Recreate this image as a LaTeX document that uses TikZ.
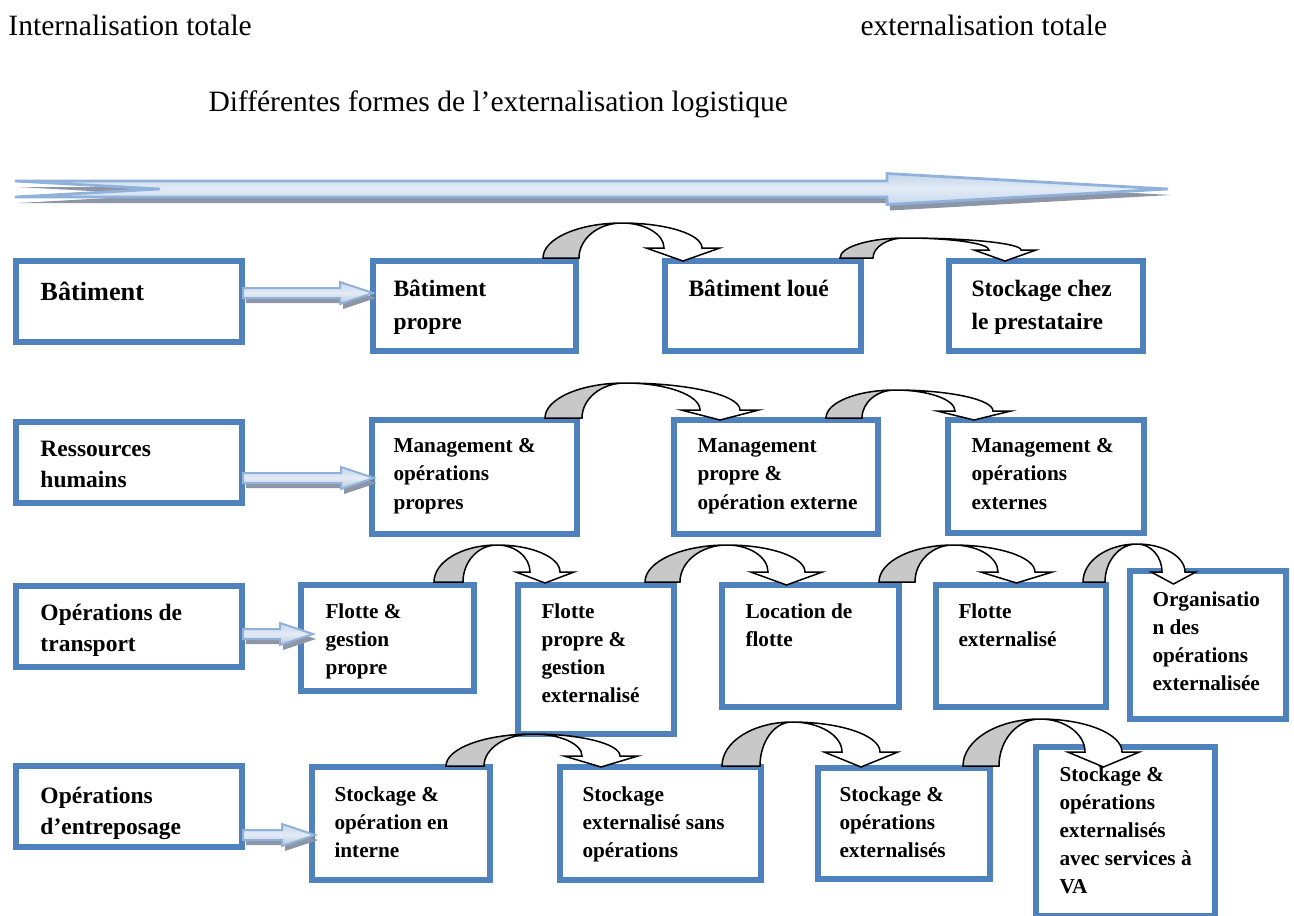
\documentclass[tikz,border=0pt]{standalone}
\usepackage{fontspec}
\setmainfont{Liberation Serif}
\definecolor{boxblue}{HTML}{4F81BD}
\definecolor{arrowedge}{HTML}{8FB1DA}
\definecolor{arrowlight}{HTML}{E3EBF5}
\definecolor{arrowmid}{HTML}{C5D6EC}
\definecolor{arrowshade}{HTML}{8C96A6}
\definecolor{backgray}{HTML}{C8C8C8}
\newcommand\boxtext[1]{\begin{tabular}[t]{@{}l@{}}#1\end{tabular}}
% rectangle given by its outer edges (x0,y0)-(x1,y1), in pixel units
\newcommand\bluerect[5]{%
  \node[bluebox, anchor=north west,
        minimum width={(#4-#2-6)*0.4pt}, minimum height={(#5-#3-6)*0.4pt}]
        (#1) at ({#2+3},{#3+3}) {};}
% straight block arrow: from x=#1 to tip x=#2 at height #3
\newcommand\flatarrowpath[3]{(#1,{#3-5}) -- ({#2-33},{#3-5}) -- ({#2-33},{#3-11}) -- (#2,#3)
  -- ({#2-33},{#3+11}) -- ({#2-33},{#3+5}) -- (#1,{#3+5}) -- cycle}
\newcommand\flatarrow[3]{%
  \fill[arrowshade, shift={(3,5)}] \flatarrowpath{#1}{#2}{#3};
  \path[flatarrowbody] \flatarrowpath{#1}{#2}{#3};}
% curved block arrow: outer/inner base x (#1,#2) at y #3, peak (#4,#5),
% shaft end inner/outer x (#6,#7) at y #8, tip at y #9
\newcommand\curvedarrow[9]{%
  \filldraw[curveback] (#1,#3) .. controls (#1,{#3-0.5523*(#3-#5)}) and ({#4-0.5523*(#4-#1)},#5) .. (#4,#5)
    .. controls ({#4-0.5523*(#4-#2)},#5) and (#2,{#3-0.5523*(#3-#5)}) .. (#2,#3) -- cycle;
  \filldraw[curvefront] (#4,#5) .. controls ({#4+0.5523*(#7-#4)},#5) and (#7,{#8-0.5523*(#8-#5)}) .. (#7,#8)
    -- ({#7+0.47*(#7-#6)},#8) -- ({(#6+#7)/2},#9) -- ({#6-0.47*(#7-#6)},#8) -- (#6,#8)
    .. controls (#6,{#8-0.5523*(#8-#5)}) and ({#4+0.5523*(#6-#4)},#5) .. (#4,#5) -- cycle;}
\begin{document}
\begin{tikzpicture}[x=0.4pt, y=-0.4pt,
  bluebox/.style={draw=boxblue, line width=2.4pt, fill=white, inner sep=0pt, outer sep=0pt},
  toptext/.style={inner sep=0pt, font=\fontsize{11.8}{14}\selectfont},
  rowlabel/.style={inner sep=0pt, anchor=base west, font=\bfseries\fontsize{9.4}{12.4}\selectfont},
  firstrow/.style={inner sep=0pt, anchor=base west, font=\bfseries\fontsize{9.4}{13.4}\selectfont},
  cell/.style={inner sep=0pt, anchor=base west, font=\bfseries\fontsize{8.5}{11.2}\selectfont},
  flatarrowbody/.style={draw=arrowedge, line width=0.8pt, top color=arrowmid, bottom color=arrowmid!80!gray, middle color=arrowlight},
  curveback/.style={draw=black, line width=0.6pt, fill=backgray},
  curvefront/.style={draw=black, line width=0.6pt, fill=white}]
\useasboundingbox (0,0) rectangle (1294,915);

% headings
\node[toptext, anchor=base west] (intl) at (8,35) {Internalisation totale};
\node[toptext, anchor=base west] (extl) at (860,35) {externalisation totale};
\node[toptext, anchor=base west] (title) at (208,111) {Différentes formes de l’externalisation logistique};

% long arrow from internal to external
\begin{scope}[shift={(3,6)}]
  \fill[arrowshade] (15,181) -- (887,181) -- (887,173.5) -- (1168,189) -- (887,204.5) -- (887,197) -- (15,197) -- (160,189) -- cycle;
\end{scope}
\path[draw=arrowedge, line width=1.1pt, top color=arrowmid, bottom color=arrowmid, middle color=arrowlight]
  (15,181) -- (887,181) -- (887,173.5) -- (1168,189) -- (887,204.5) -- (887,197) -- (15,197) -- (160,189) -- cycle;

% row 1
\bluerect{lab1}{13}{258}{245}{345}
\bluerect{b11}{370}{258}{579}{354}
\bluerect{b12}{662}{258}{864}{354}
\bluerect{b13}{946}{258}{1146}{354}
\node[rowlabel, font=\bfseries\fontsize{10.5}{13}\selectfont] (t10) at (40,300) {Bâtiment};
\node[firstrow] (t11) at (393,296) {\boxtext{Bâtiment\\propre}};
\node[firstrow] (t12) at (688,296) {\boxtext{Bâtiment loué}};
\node[firstrow] (t13) at (971,296) {\boxtext{Stockage chez\\le prestataire}};

% row 2
\bluerect{lab2}{13}{419}{245}{506}
\bluerect{b21}{369}{417}{580}{537}
\bluerect{b22}{671}{417}{881}{537}
\bluerect{b23}{945}{417}{1147}{536}
\node[rowlabel] (t20) at (40,456) {\boxtext{Ressources\\humains}};
\node[cell, font=\bfseries\fontsize{8.5}{11.5}\selectfont] (t21) at (393,452) {\boxtext{Management \&\\opérations\\propres}};
\node[cell, font=\bfseries\fontsize{8.5}{11.5}\selectfont] (t22) at (697,452) {\boxtext{Management\\propre \&\\opération externe}};
\node[cell, font=\bfseries\fontsize{8.5}{11.5}\selectfont] (t23) at (971,452) {\boxtext{Management \&\\opérations\\externes}};

% row 3
\bluerect{lab3}{13}{583}{245}{670}
\bluerect{b31}{298}{582}{477}{694}
\bluerect{b32}{515}{582}{677}{737}
\bluerect{b33}{719}{582}{902}{710}
\bluerect{b34}{933}{582}{1109}{710}
\bluerect{b35}{1127}{568}{1289}{722}
\node[rowlabel] (t30) at (40,620) {\boxtext{Opérations de\\transport}};
\node[cell] (t31) at (325,618) {\boxtext{Flotte \&\\gestion\\propre}};
\node[cell] (t32) at (541,618) {\boxtext{Flotte\\propre \&\\gestion\\externalisé}};
\node[cell] (t33) at (745,618) {\boxtext{Location de\\flotte}};
\node[cell] (t34) at (958,618) {\boxtext{Flotte\\externalisé}};
\node[cell] (t35) at (1152,606) {\boxtext{Organisatio\\n des\\opérations\\externalisée}};

% row 4
\bluerect{lab4}{13}{763}{245}{850}
\bluerect{b41}{309}{764}{493}{883}
\bluerect{b42}{557}{764}{764}{883}
\bluerect{b43}{815}{765}{993}{882}
\bluerect{b44}{1033}{744}{1218}{919}
\node[rowlabel] (t40) at (40,803) {\boxtext{Opérations\\d’entreposage}};
\node[cell] (t41) at (334,801) {\boxtext{Stockage \&\\opération en\\interne}};
\node[cell] (t42) at (582,801) {\boxtext{Stockage\\externalisé sans\\opérations}};
\node[cell] (t43) at (839,801) {\boxtext{Stockage \&\\opérations\\externalisés}};
\node[cell] (t44) at (1059,781) {\boxtext{Stockage \&\\opérations\\externalisés\\avec services à\\VA}};

% straight arrows from the row labels
\flatarrow{243}{373}{293}
\flatarrow{243}{374}{478}
\flatarrow{243}{313}{634}
\flatarrow{243}{315}{835}

% curved arrows between successive forms
\curvedarrow{543}{579}{258}{622}{223}{664}{702}{248}{261}
\curvedarrow{840}{873}{258}{905}{238}{989}{1021}{250}{261}
\curvedarrow{545}{582}{418}{625}{383}{700}{740}{410}{420}
\curvedarrow{826}{862}{418}{895}{390}{955}{993}{411}{420}
\curvedarrow{434}{463}{582}{497}{545}{530}{560}{572}{583}
\curvedarrow{645}{680}{582}{727}{545}{768}{805}{572}{585}
\curvedarrow{879}{915}{582}{953}{545}{998}{1035}{572}{583}
\curvedarrow{1083}{1105}{582}{1137}{544}{1162}{1185}{572}{584}
\curvedarrow{446}{484}{766}{533}{734}{582}{620}{756}{767}
\curvedarrow{722}{760}{766}{792}{722}{842}{880}{752}{767}
\curvedarrow{963}{999}{766}{1040}{719}{1085}{1122}{752}{767}
\end{tikzpicture}
\end{document}
